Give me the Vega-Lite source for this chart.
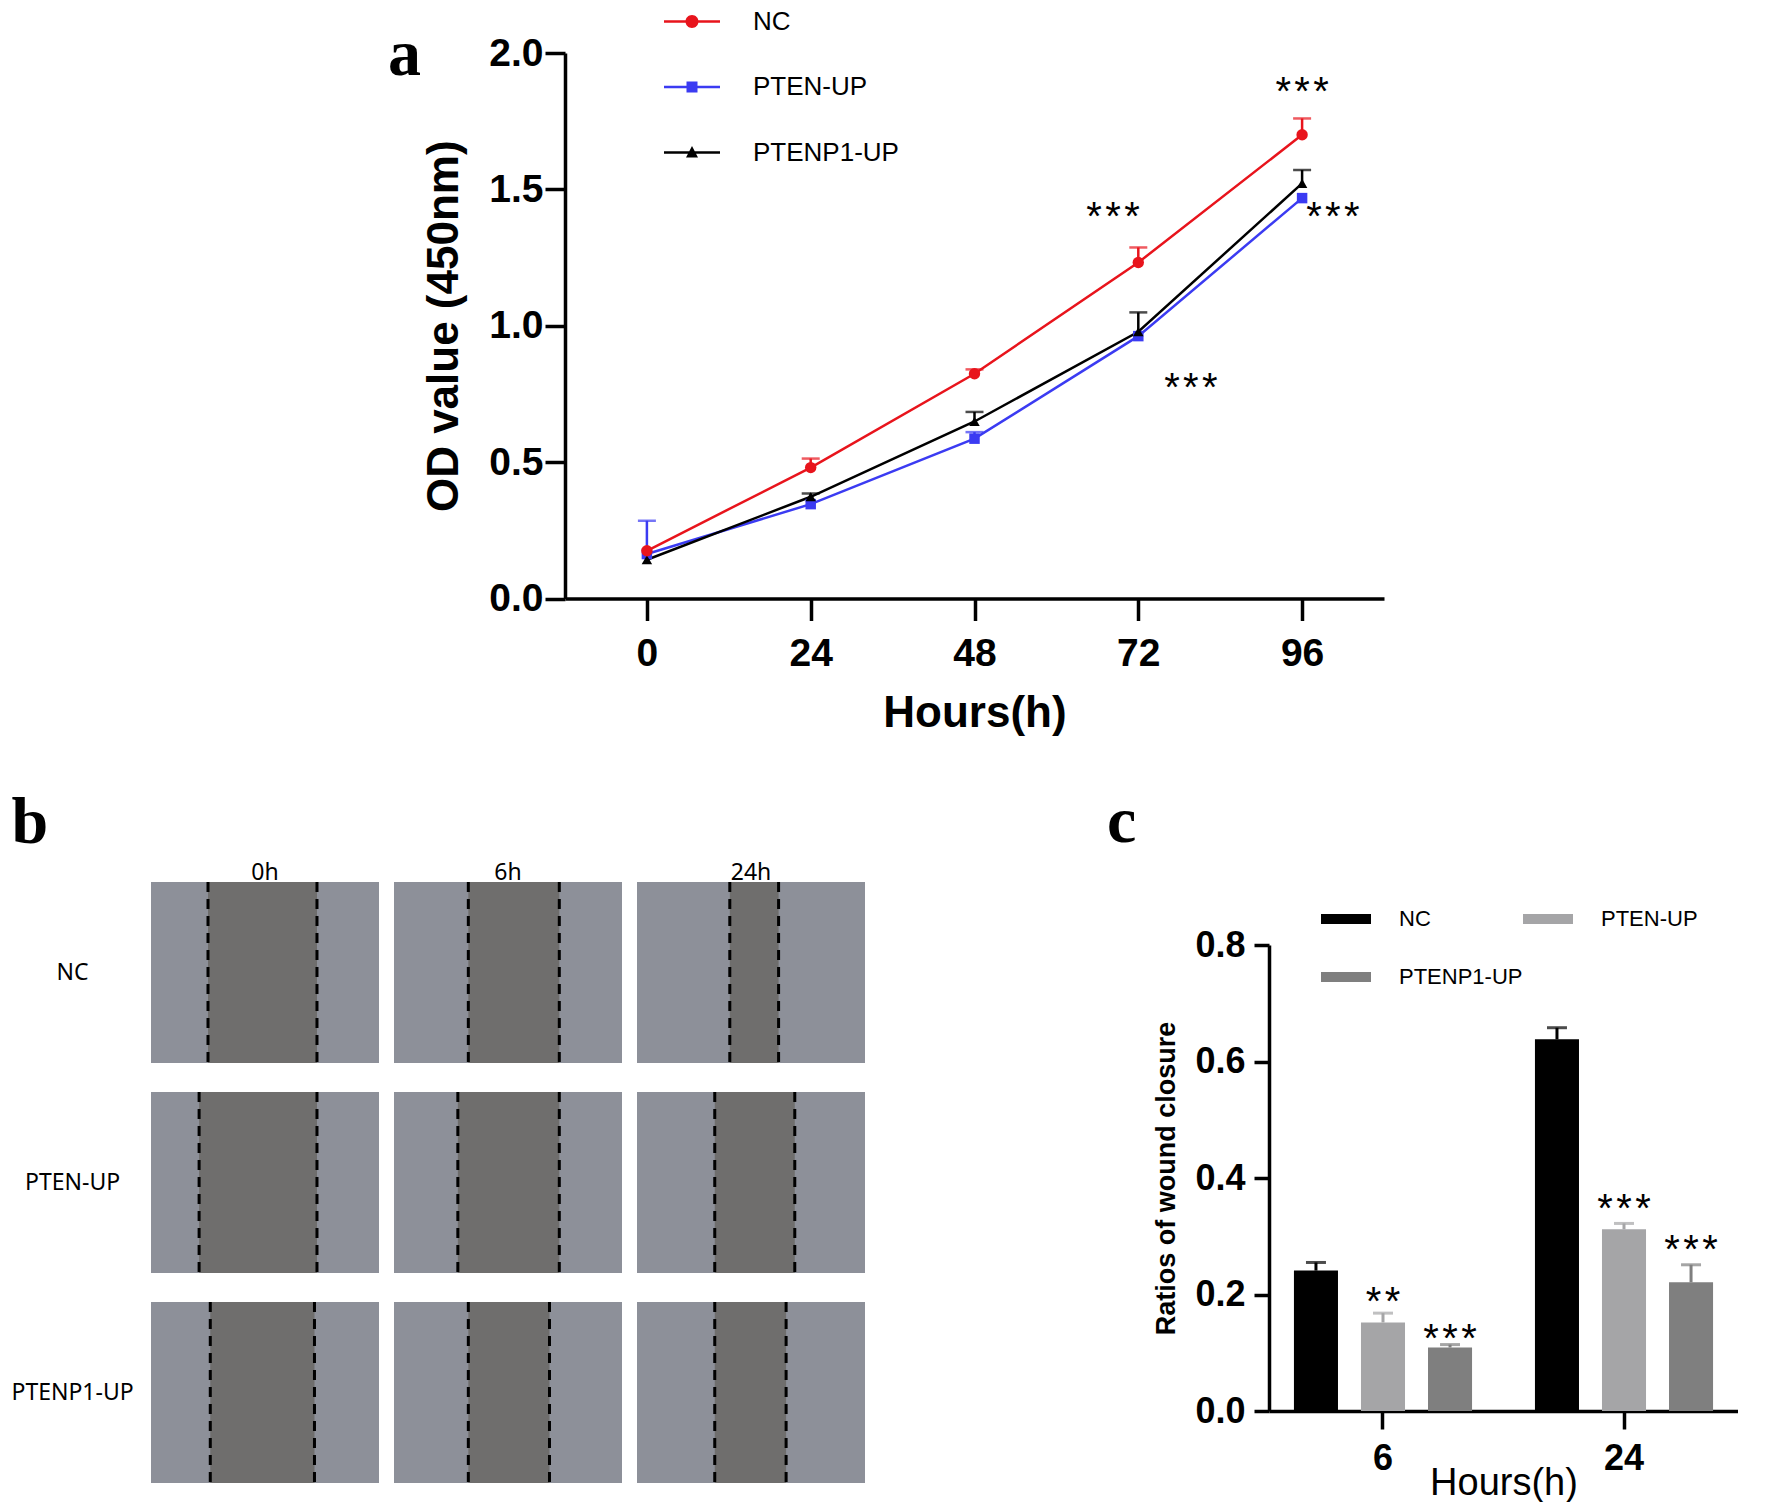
{
  "$schema": "https://vega.github.io/schema/vega-lite/v6.json",
  "padding": {"left": 11, "top": 1, "right": 0, "bottom": 0},
  "datasets": {
    "growth": [
      {"hour": 0, "group": "NC", "od": 0.175, "upper": null},
      {"hour": 24, "group": "NC", "od": 0.48, "upper": 0.513},
      {"hour": 48, "group": "NC", "od": 0.824, "upper": 0.84},
      {"hour": 72, "group": "NC", "od": 1.232, "upper": 1.287},
      {"hour": 96, "group": "NC", "od": 1.70, "upper": 1.76},
      {"hour": 0, "group": "PTEN-UP", "od": 0.163, "upper": 0.285},
      {"hour": 24, "group": "PTEN-UP", "od": 0.346, "upper": null},
      {"hour": 48, "group": "PTEN-UP", "od": 0.586, "upper": 0.61},
      {"hour": 72, "group": "PTEN-UP", "od": 0.962, "upper": null},
      {"hour": 96, "group": "PTEN-UP", "od": 1.468, "upper": null},
      {"hour": 0, "group": "PTENP1-UP", "od": 0.142, "upper": null},
      {"hour": 24, "group": "PTENP1-UP", "od": 0.373, "upper": 0.385},
      {"hour": 48, "group": "PTENP1-UP", "od": 0.649, "upper": 0.684},
      {"hour": 72, "group": "PTENP1-UP", "od": 0.978, "upper": 1.049},
      {"hour": 96, "group": "PTENP1-UP", "od": 1.522, "upper": 1.571}
    ],
    "starsA": [
      {"hour": 68.3, "od": 1.437, "label": "*\u200a*\u200a*"},
      {"hour": 96, "od": 1.895, "label": "*\u200a*\u200a*"},
      {"hour": 100.5, "od": 1.437, "label": "*\u200a*\u200a*"},
      {"hour": 79.7, "od": 0.81, "label": "*\u200a*\u200a*"}
    ],
    "wound": [
      {"time": "0h", "group": "NC", "gapL": 0.25, "gapR": 0.728},
      {"time": "6h", "group": "NC", "gapL": 0.326, "gapR": 0.725},
      {"time": "24h", "group": "NC", "gapL": 0.407, "gapR": 0.621},
      {"time": "0h", "group": "PTEN-UP", "gapL": 0.211, "gapR": 0.728},
      {"time": "6h", "group": "PTEN-UP", "gapL": 0.28, "gapR": 0.725},
      {"time": "24h", "group": "PTEN-UP", "gapL": 0.341, "gapR": 0.692},
      {"time": "0h", "group": "PTENP1-UP", "gapL": 0.26, "gapR": 0.717},
      {"time": "6h", "group": "PTENP1-UP", "gapL": 0.326, "gapR": 0.682},
      {"time": "24h", "group": "PTENP1-UP", "gapL": 0.341, "gapR": 0.654}
    ],
    "closure": [
      {"hour": 6, "group": "NC", "ratio": 0.241, "upper": 0.255},
      {"hour": 6, "group": "PTEN-UP", "ratio": 0.152, "upper": 0.168},
      {"hour": 6, "group": "PTENP1-UP", "ratio": 0.109, "upper": 0.114},
      {"hour": 24, "group": "NC", "ratio": 0.638, "upper": 0.658},
      {"hour": 24, "group": "PTEN-UP", "ratio": 0.312, "upper": 0.322},
      {"hour": 24, "group": "PTENP1-UP", "ratio": 0.221, "upper": 0.251}
    ],
    "starsC": [
      {"hour": 6, "group": "PTEN-UP", "ratio": 0.205, "label": "*\u200a*"},
      {"hour": 6, "group": "PTENP1-UP", "ratio": 0.140, "label": "*\u200a*\u200a*"},
      {"hour": 24, "group": "PTEN-UP", "ratio": 0.364, "label": "*\u200a*\u200a*"},
      {"hour": 24, "group": "PTENP1-UP", "ratio": 0.294, "label": "*\u200a*\u200a*"}
    ]
  },
  "vconcat": [
    {
      "spacing": 236,
      "resolve": {
        "scale": {"color": "independent", "shape": "independent"},
        "legend": {"color": "independent", "shape": "independent"}
      },
      "hconcat": [
        {"width": 1, "height": 1, "data": {"values": []}, "mark": "point"},
        {
          "width": 819,
          "height": 545.5,
          "title": {
            "text": "a", "orient": "top", "anchor": "start", "frame": "group", "align": "left",
            "baseline": "alphabetic", "font": "Liberation Serif", "fontWeight": "bold",
            "fontSize": 66, "offset": 0, "dx": -177, "dy": 139, "color": "black"
          },
          "data": {"name": "growth"},
          "encoding": {
            "x": {
              "field": "hour", "type": "quantitative",
              "scale": {"domain": [-12, 108], "nice": false, "zero": false},
              "axis": {
                "values": [0, 24, 48, 72, 96], "title": "Hours(h)", "tickSize": 22,
                "labelPadding": 14, "labelFontSize": 39, "labelFontWeight": "bold",
                "titleFontSize": 44, "titleFontWeight": "bold", "titlePadding": 18
              }
            },
            "y": {
              "field": "od", "type": "quantitative",
              "scale": {"domain": [0, 2], "nice": false},
              "axis": {
                "values": [0, 0.5, 1, 1.5, 2], "format": ".1f", "title": "OD value (450nm)",
                "tickSize": 20, "labelPadding": 2, "labelFontSize": 39, "labelFontWeight": "bold",
                "titleFontSize": 44, "titleFontWeight": "bold", "titlePadding": 22
              }
            }
          },
          "layer": [
            {
              "transform": [{"filter": "false"}],
              "mark": {"type": "point", "filled": true, "opacity": 1},
              "encoding": {
                "color": {
                  "field": "group", "type": "nominal",
                  "scale": {"domain": ["NC", "PTEN-UP", "PTENP1-UP"], "range": ["#e8141c", "#3b3bf2", "#000000"]},
                  "legend": {
                    "title": null, "orient": "none", "legendX": 107, "legendY": -51.5,
                    "symbolSize": 1600, "symbolStrokeWidth": 0, "symbolOpacity": 1, "labelFontSize": 26,
                    "labelOffset": 41, "rowPadding": 32.5, "padding": 0
                  }
                },
                "shape": {
                  "field": "group", "type": "nominal",
                  "scale": {
                    "domain": ["NC", "PTEN-UP", "PTENP1-UP"],
                    "range": [
                      "M-1.4,-0.0625L1.4,-0.0625L1.4,0.0625L-1.4,0.0625Z M0.325,0A0.325,0.325 0 1,1 -0.325,0A0.325,0.325 0 1,1 0.325,0Z",
                      "M-1.4,-0.0625L1.4,-0.0625L1.4,0.0625L-1.4,0.0625Z M-0.275,-0.275L0.275,-0.275L0.275,0.275L-0.275,0.275Z",
                      "M-1.4,-0.0625L1.4,-0.0625L1.4,0.0625L-1.4,0.0625Z M0,-0.33L0.3,0.25L-0.3,0.25Z"
                    ]
                  },
                  "legend": {
                    "title": null, "orient": "none", "legendX": 107, "legendY": -51.5,
                    "symbolSize": 1600, "symbolStrokeWidth": 0, "symbolOpacity": 1, "labelFontSize": 26,
                    "labelOffset": 41, "rowPadding": 32.5, "padding": 0
                  }
                }
              }
            },
            {
              "mark": {"type": "line", "strokeWidth": 2.5},
              "encoding": {
                "color": {"field": "group", "type": "nominal", "legend": null}
              }
            },
            {
              "transform": [{"filter": "isValid(datum.upper)"}],
              "mark": {"type": "rule", "strokeWidth": 2.5},
              "encoding": {
                "y2": {"field": "upper"},
                "color": {"field": "group", "type": "nominal", "legend": null}
              }
            },
            {
              "transform": [{"filter": "isValid(datum.upper)"}],
              "mark": {"type": "tick", "orient": "horizontal", "size": 18, "thickness": 2.5},
              "encoding": {
                "y": {"field": "upper", "type": "quantitative"},
                "color": {"field": "group", "type": "nominal", "legend": null}
              }
            },
            {
              "transform": [{"filter": "datum.group == 'PTEN-UP'"}],
              "mark": {"type": "point", "filled": true, "shape": "square", "size": 110, "opacity": 1},
              "encoding": {"color": {"field": "group", "type": "nominal", "legend": null}}
            },
            {
              "transform": [{"filter": "datum.group == 'PTENP1-UP'"}],
              "mark": {"type": "point", "filled": true, "shape": "triangle-up", "size": 110, "opacity": 1},
              "encoding": {"color": {"field": "group", "type": "nominal", "legend": null}}
            },
            {
              "transform": [{"filter": "datum.group == 'NC'"}],
              "mark": {"type": "point", "filled": true, "shape": "circle", "size": 130, "opacity": 1},
              "encoding": {"color": {"field": "group", "type": "nominal", "legend": null}}
            },
            {
              "data": {"name": "starsA"},
              "mark": {"type": "text", "fontSize": 40, "baseline": "alphabetic", "dy": 23, "color": "black"},
              "encoding": {
                "text": {"field": "label", "type": "nominal"}
              }
            }
          ]
        }
      ]
    },
    {
      "spacing": 241,
      "resolve": {"scale": {"color": "independent"}, "legend": {"color": "independent"}},
      "hconcat": [
        {
          "data": {"name": "wound"},
          "title": {
            "text": "b", "anchor": "start", "frame": "bounds", "align": "left", "baseline": "alphabetic",
            "font": "Liberation Serif", "fontWeight": "bold", "fontSize": 66, "offset": 0, "dy": 47, "color": "black"
          },
          "spacing": {"row": 25, "column": 15},
          "align": "each",
          "facet": {
            "row": {
              "field": "group", "type": "nominal", "sort": ["NC", "PTEN-UP", "PTENP1-UP"],
              "header": {"title": null, "labels": false}
            },
            "column": {
              "field": "time", "type": "nominal", "sort": ["0h", "6h", "24h"],
              "header": {
                "title": null, "labelOrient": "top", "labelFont": "Noto Sans",
                "labelFontSize": 23, "labelPadding": -5, "labelColor": "black"
              }
            }
          },
          "spec": {
            "width": 228,
            "height": 181,
            "view": {"fill": "#8d9099", "stroke": null},
            "layer": [
              {
                "mark": {"type": "rect", "color": "#6f6e6d"},
                "encoding": {
                  "x": {"field": "gapL", "type": "quantitative", "scale": {"domain": [0, 1], "nice": false}, "axis": null},
                  "x2": {"field": "gapR"}
                }
              },
              {
                "mark": {"type": "rule", "color": "black", "strokeWidth": 3, "strokeDash": [10, 7]},
                "encoding": {"x": {"field": "gapL", "type": "quantitative"}}
              },
              {
                "mark": {"type": "rule", "color": "black", "strokeWidth": 3, "strokeDash": [10, 7]},
                "encoding": {"x": {"field": "gapR", "type": "quantitative"}}
              },
              {
                "transform": [{"filter": "datum.time == '0h'"}],
                "mark": {"type": "text", "font": "Noto Sans", "fontSize": 23, "color": "black", "align": "center", "baseline": "middle"},
                "encoding": {
                  "x": {"datum": -0.344, "type": "quantitative"},
                  "text": {"field": "group", "type": "nominal"}
                }
              }
            ]
          }
        },
        {
          "title": {
            "text": "c", "anchor": "start", "frame": "bounds", "align": "left", "baseline": "alphabetic",
            "font": "Liberation Serif", "fontWeight": "bold", "fontSize": 66, "offset": 0,
            "dx": -46, "dy": 26, "color": "black"
          },
          "spacing": 11,
          "resolve": {"scale": {"color": "independent"}, "legend": {"color": "independent"}},
          "vconcat": [
            {"width": 1, "height": 1, "data": {"values": []}, "mark": "point"},
            {
              "width": 469,
              "height": 466,
              "data": {"name": "closure"},
              "encoding": {
                "x": {
                  "field": "hour", "type": "ordinal", "sort": [6, 24],
                  "scale": {"paddingInner": 0.261, "paddingOuter": 0.1035},
                  "axis": {
                    "title": "Hours(h)", "labelAngle": 0, "tickSize": 18, "labelPadding": 12,
                    "labelFontSize": 36, "labelFontWeight": "bold", "titleFontSize": 38,
                    "titleFontWeight": "normal", "titlePadding": -12
                  }
                },
                "xOffset": {
                  "field": "group", "type": "nominal", "sort": ["NC", "PTEN-UP", "PTENP1-UP"],
                  "scale": {"paddingInner": 0.343, "paddingOuter": 0}
                },
                "y": {
                  "field": "ratio", "type": "quantitative",
                  "scale": {"domain": [0, 0.8], "nice": false},
                  "axis": {
                    "values": [0, 0.2, 0.4, 0.6, 0.8], "format": ".1f", "title": "Ratios of wound closure",
                    "tickSize": 15, "labelPadding": 9, "labelFontSize": 36, "labelFontWeight": "bold",
                    "titleFontSize": 27, "titleFontWeight": "bold", "titlePadding": 14
                  }
                },
                "color": {
                  "field": "group", "type": "nominal",
                  "scale": {"domain": ["NC", "PTEN-UP", "PTENP1-UP"], "range": ["#000000", "#a5a5a7", "#7f7f7f"]},
                  "legend": {
                    "title": null, "orient": "none", "legendX": 52, "legendY": -51,
                    "direction": "horizontal", "columns": 2,
                    "columnPadding": -13, "rowPadding": 22,
                    "symbolType": "M-1,-0.2L1,-0.2L1,0.2L-1,0.2Z", "symbolSize": 2500,
                    "symbolStrokeWidth": 0, "symbolOpacity": 1, "labelFontSize": 22, "labelOffset": 28, "padding": 0
                  }
                }
              },
              "layer": [
                {
                  "mark": {"type": "bar", "opacity": 1}
                },
                {
                  "mark": {"type": "rule", "strokeWidth": 3},
                  "encoding": {"y2": {"field": "upper"}}
                },
                {
                  "mark": {"type": "tick", "orient": "horizontal", "size": 20, "thickness": 3},
                  "encoding": {"y": {"field": "upper", "type": "quantitative"}}
                },
                {
                  "data": {"name": "starsC"},
                  "mark": {"type": "text", "fontSize": 40, "baseline": "alphabetic", "dy": 23},
                  "encoding": {"text": {"field": "label", "type": "nominal"}, "color": {"value": "black"}}
                }
              ]
            }
          ]
        }
      ]
    }
  ],
  "spacing": 53,
  "resolve": {
    "scale": {"color": "independent", "shape": "independent"},
    "legend": {"color": "independent", "shape": "independent"}
  },
  "config": {
    "font": "Liberation Sans",
    "view": {"stroke": null},
    "axis": {
      "grid": false, "domainColor": "black", "domainWidth": 3.5, "tickColor": "black",
      "tickWidth": 3.5, "labelColor": "black", "titleColor": "black"
    },
    "legend": {"labelColor": "black", "labelFont": "Liberation Sans"}
  }
}
